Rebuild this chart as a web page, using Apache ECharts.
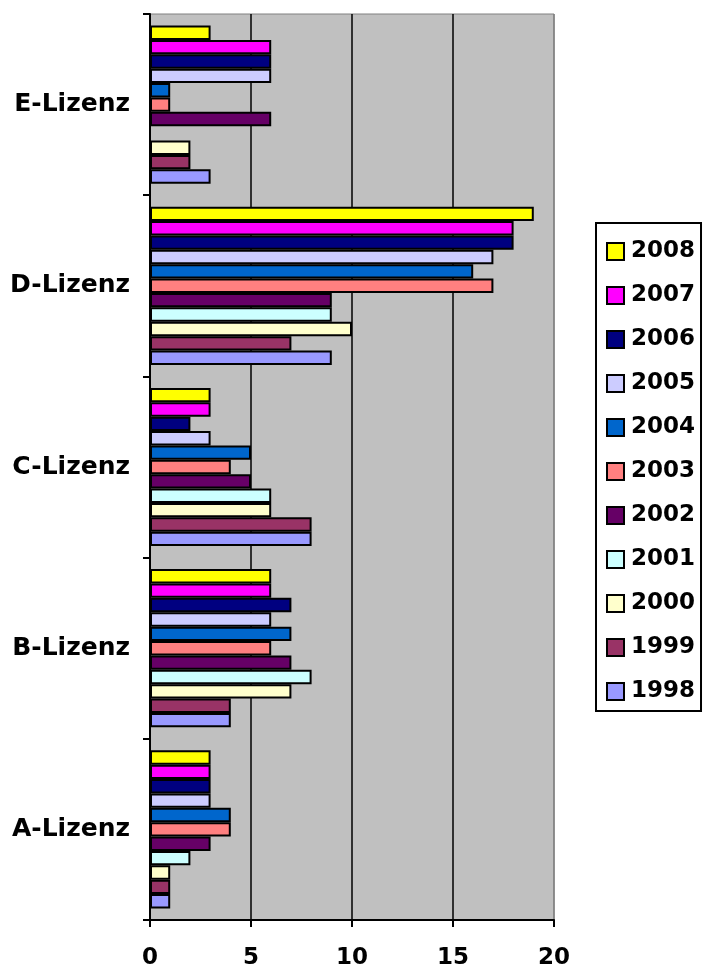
<!DOCTYPE html>
<html>
<head>
<meta charset="utf-8">
<script src="https://cdn.jsdelivr.net/npm/echarts@6/dist/echarts.min.js"></script>
<style>
html,body{margin:0;padding:0;background:#fff;}
#main{width:704px;height:972px;}
</style>
</head>
<body>
<div id="main"></div>
<script>
const categories = ['A-Lizenz', 'B-Lizenz', 'C-Lizenz', 'D-Lizenz', 'E-Lizenz'];
const years = ['1998', '1999', '2000', '2001', '2002', '2003', '2004', '2005', '2006', '2007', '2008'];
const colors = ['#9999FF', '#993366', '#FFFFCC', '#CCFFFF', '#660066', '#FF8080', '#0066CC', '#CCCCFF', '#000080', '#FF00FF', '#FFFF00'];
// values per year, in category order A..E
const v1998 = [1, 4, 8, 9, 3];
const v1999 = [1, 4, 8, 7, 2];
const v2000 = [1, 7, 6, 10, 2];
const v2001 = [2, 8, 6, 9, 0];
const v2002 = [3, 7, 5, 9, 6];
const v2003 = [4, 6, 4, 17, 1];
const v2004 = [4, 7, 5, 16, 1];
const v2005 = [3, 6, 3, 17, 6];
const v2006 = [3, 7, 2, 18, 6];
const v2007 = [3, 6, 3, 18, 6];
const v2008 = [3, 6, 3, 19, 3];
const values = [v1998, v1999, v2000, v2001, v2002, v2003, v2004, v2005, v2006, v2007, v2008];
const xTicks = [0, 5, 10, 15, 20];

const FONT = '"DejaVu Sans", sans-serif';
const chart = echarts.init(document.getElementById('main'));
const series = [];
for (let i = years.length - 1; i >= 0; i--) {
  series.push({
    name: years[i],
    type: 'bar',
    data: values[i],
    barGap: '0%',
    barCategoryGap: '12.7%',
    itemStyle: { color: colors[i], borderColor: '#000', borderWidth: 2 },
    emphasis: { disabled: true },
    animation: false
  });
}
chart.setOption({
  animation: false,
  grid: { left: 150, right: 150, top: 14, bottom: 52, show: true, backgroundColor: '#C0C0C0', borderColor: '#808080', borderWidth: 1 },
  legend: {
    orient: 'vertical',
    left: 596, top: 223,
    data: years.slice().reverse(),
    itemWidth: 17, itemHeight: 17, itemGap: 21,
    padding: [17, 6, 8, 10],
    backgroundColor: '#fff', borderColor: '#000', borderWidth: 2, borderRadius: 0,
    icon: 'rect',
    textStyle: { fontFamily: FONT, fontWeight: 'bold', fontSize: 23, color: '#000', lineHeight: 22, padding: [0, 0, 0, 2] },
    selectedMode: false
  },
  xAxis: {
    type: 'value', min: xTicks[0], max: xTicks[xTicks.length - 1], interval: 5,
    axisLine: { show: true, lineStyle: { color: '#000', width: 2 } },
    axisTick: { show: true, length: 7, lineStyle: { color: '#000', width: 2 } },
    axisLabel: { fontFamily: FONT, fontWeight: 'bold', fontSize: 23, color: '#000', margin: 27 },
    splitLine: { show: true, lineStyle: { color: ['#000', '#000', '#000', '#000', '#808080'], width: 1.5 } }
  },
  yAxis: {
    type: 'category', data: categories,
    axisLine: { show: true, lineStyle: { color: '#000', width: 2 } },
    axisTick: { show: true, length: 7, lineStyle: { color: '#000', width: 2 } },
    axisLabel: { fontFamily: FONT, fontWeight: 'bold', fontSize: 25, color: '#000', margin: 20 },
    splitLine: { show: false }
  },
  series: series
});
</script>
</body>
</html>
